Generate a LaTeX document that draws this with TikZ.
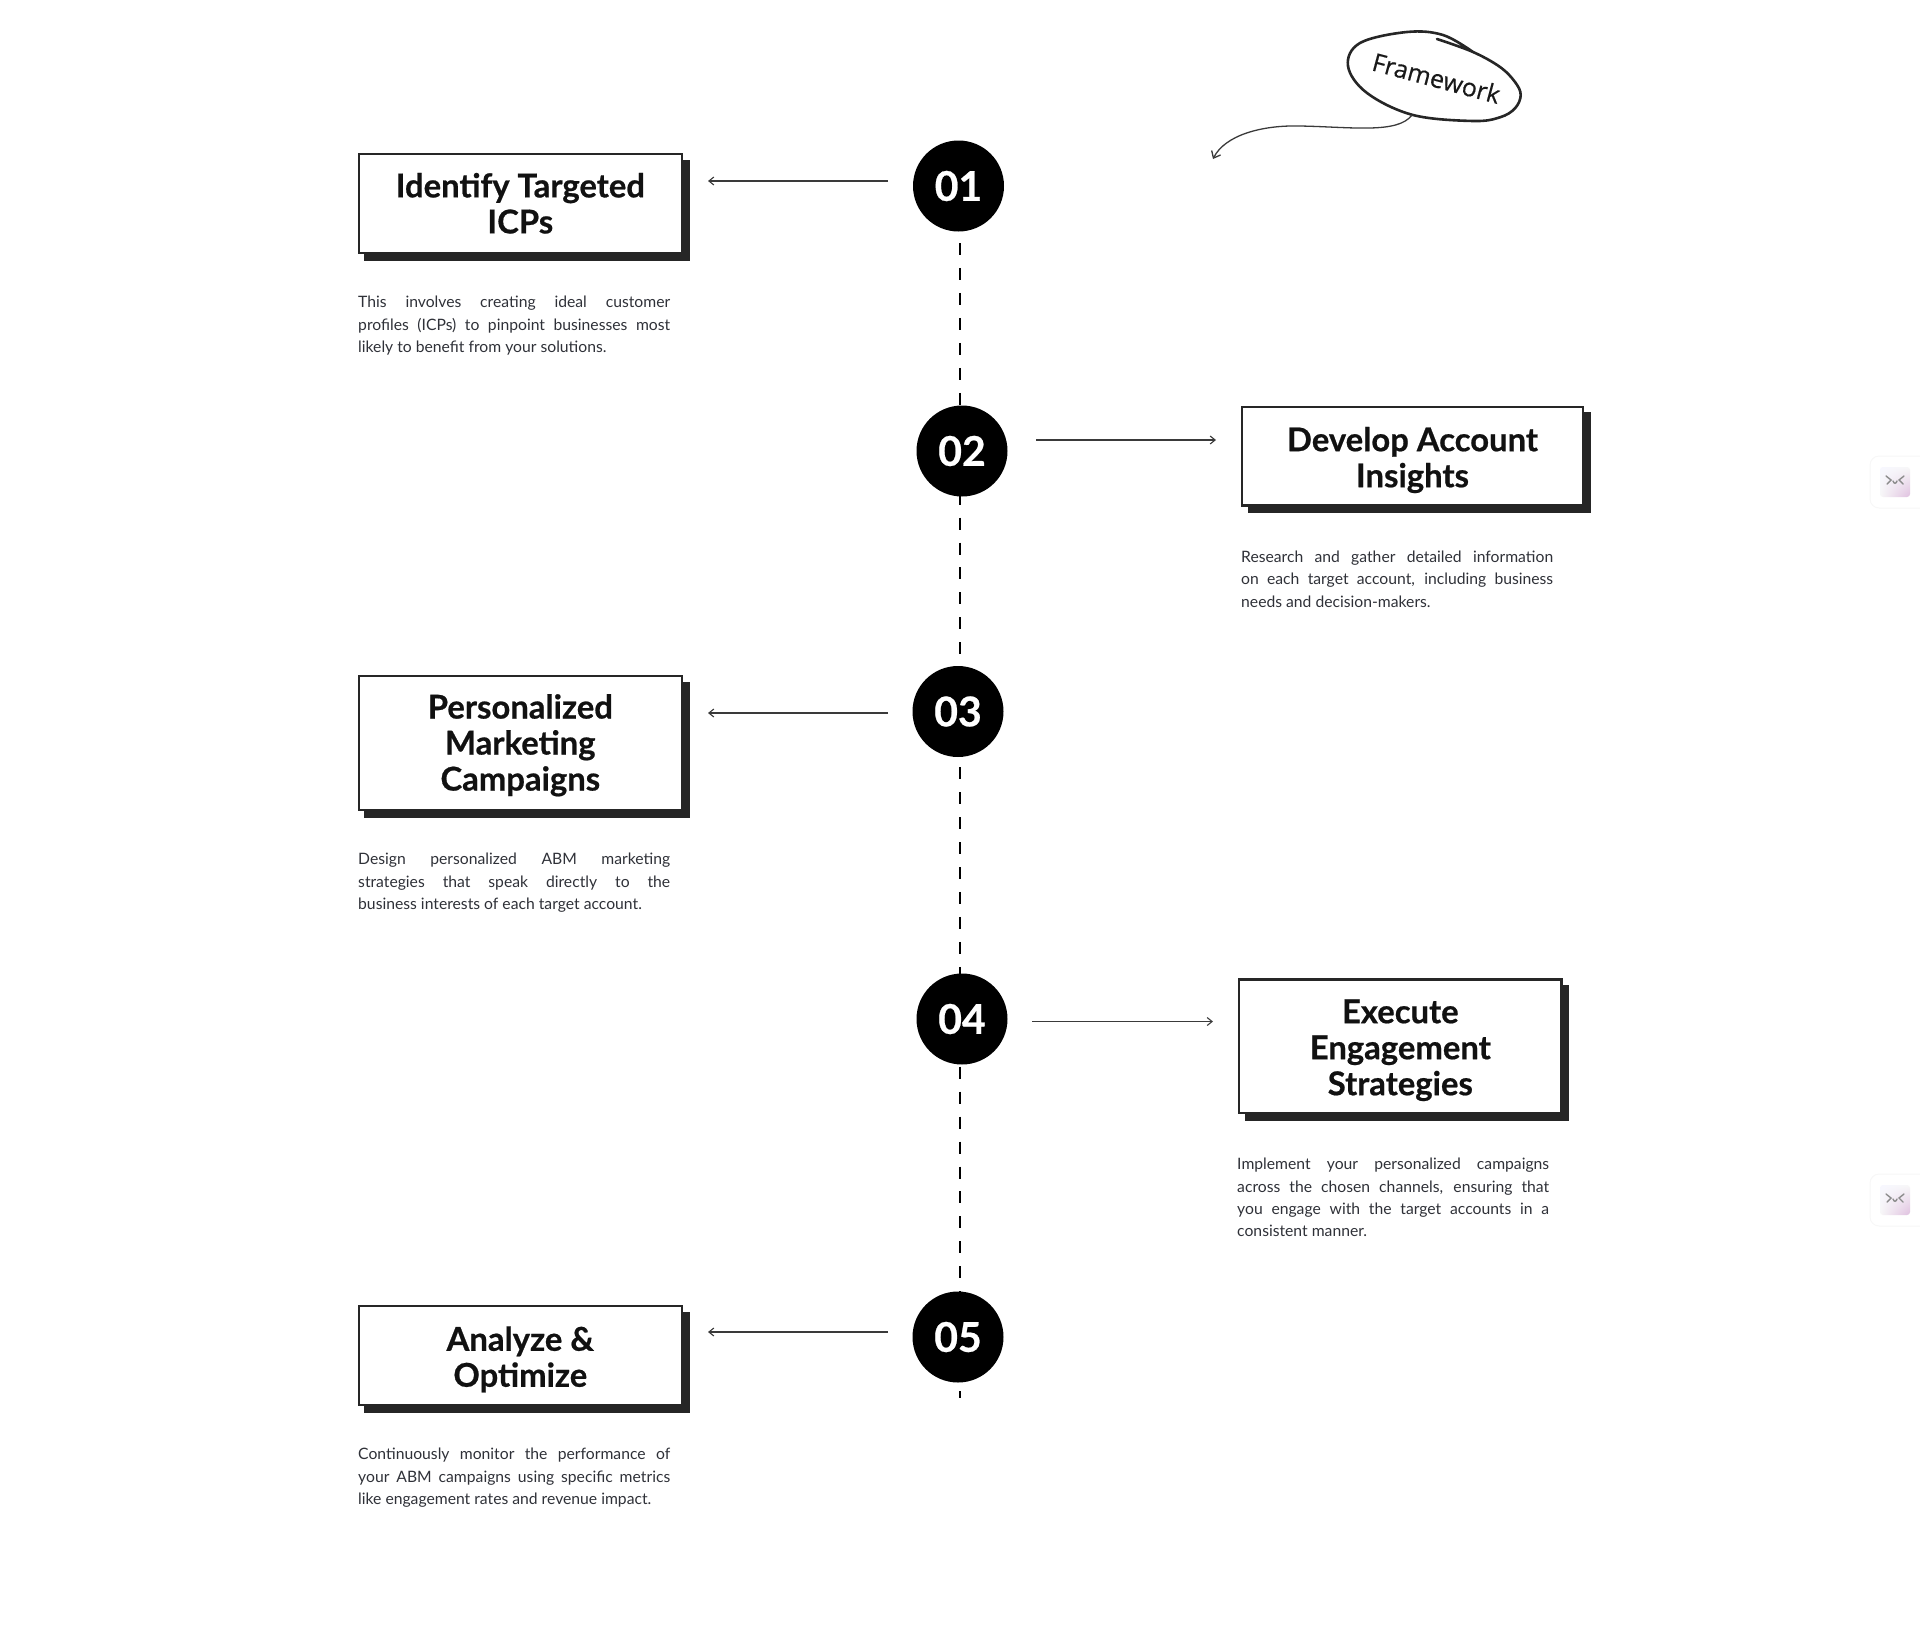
\documentclass[tikz,border=0pt]{standalone}
\usepackage{fontspec}
\setmainfont{Lato}[BoldFeatures={FakeBold=0.6}]
\newfontfamily\handfont{Open Sans}[FakeBold=0.4]
\usetikzlibrary{arrows.meta,shadows,shadings}
\definecolor{ink}{HTML}{111111}
\definecolor{bodyink}{HTML}{2F3138}
\definecolor{shadowink}{HTML}{262626}
\definecolor{arrowink}{HTML}{3A3A3A}
\newcommand{\jl}[1]{\makebox[312pt][s]{#1}}
\tikzset{
  x=1pt,y=-1pt,
  titlebox/.style={draw=shadowink,line width=2.3pt,fill=white,inner sep=0pt,
    general shadow={draw=shadowink,fill=shadowink,opacity=1,shadow xshift=6.8pt,shadow yshift=-6.5pt}},
  titletext/.style={inner sep=0pt,align=center,text=ink,font=\fontsize{32.8}{36}\selectfont\bfseries},
  numdot/.style={circle,fill=black,text=white,minimum size=91pt,inner sep=0pt,font=\fontsize{41}{41}\selectfont\bfseries},
  bodytext/.style={anchor=north west,inner sep=0pt,align=left,text=bodyink,font=\fontsize{15.7}{22.4}\selectfont},
  spine/.style={draw=black,line width=2.3pt,dash pattern=on 12pt off 12.96pt},
  pointer/.style={draw=arrowink,line width=1.1pt,-{Straight Barb[length=5pt,width=8pt]}},
  panel/.style={draw=black!3,line width=1pt,fill=white,rounded corners=9pt},
  face/.style={draw=black!45,line width=1.4pt,line cap=round},
}
\newcommand{\dn}[1]{\raisebox{-3pt}{#1}}
\begin{document}
\begin{tikzpicture}
\useasboundingbox (0,0) rectangle (1920,1630);
% spine
\coordinate (s0) at (960,243);
\coordinate (s8) at (960,1398);
\draw[spine] (s0) -- (s8);
% number dots
\node[numdot] (n1) at (958.5,186) {\dn{01}};
\node[numdot] (n2) at (962,451) {\dn{02}};
\node[numdot] (n3) at (958,711.5) {\dn{03}};
\node[numdot] (n4) at (962,1019) {\dn{04}};
\node[numdot] (n5) at (958,1337) {\dn{05}};
% boxes
\node[titlebox,minimum width=323pt,minimum height=98.7pt] (b1) at (520.3,203.5) {};
\node[titlebox,minimum width=340.7pt,minimum height=98.4pt] (b2) at (1412.5,456.3) {};
\node[titlebox,minimum width=323pt,minimum height=133.7pt] (b3) at (520.3,743) {};
\node[titlebox,minimum width=322.4pt,minimum height=133.7pt] (b4) at (1400.3,1046.3) {};
\node[titlebox,minimum width=323pt,minimum height=98.7pt] (b5) at (520.3,1355.5) {};
\node[titletext] (h1) at (520.3,203.3) {Identify Targeted\\ICPs};
\node[titletext] (h2) at (1412.5,460) {Develop Account\\Insights};
\node[titletext] (h3) at (520.3,745.3) {Personalized\\Marketing\\Campaigns};
\node[titletext] (h4) at (1400.3,1050.3) {Execute\\Engagement\\Strategies};
\node[titletext] (h5) at (520.3,1359.3) {Analyze \&\\Optimize};
% arrows
\coordinate (a1s) at (888,181); \coordinate (a1e) at (708,181);
\coordinate (a2s) at (1036,440); \coordinate (a2e) at (1216,440);
\coordinate (a3s) at (888,713); \coordinate (a3e) at (708,713);
\coordinate (a4s) at (1032,1021.5); \coordinate (a4e) at (1213,1021.5);
\coordinate (a5s) at (888,1332); \coordinate (a5e) at (708,1332);
\draw[pointer] (a1s) -- (a1e);
\draw[pointer] (a2s) -- (a2e);
\draw[pointer] (a3s) -- (a3e);
\draw[pointer] (a4s) -- (a4e);
\draw[pointer] (a5s) -- (a5e);
% body
\node[bodytext] (t1) at (358,296) {\jl{This involves creating ideal customer}\\\jl{profiles (ICPs) to pinpoint businesses most}\\likely to benefit from your solutions.};
\node[bodytext] (t2) at (1241,550.5) {\jl{Research and gather detailed information}\\\jl{on each target account, including business}\\needs and decision-makers.};
\node[bodytext] (t3) at (358,853) {\jl{Design personalized ABM marketing}\\\jl{strategies that speak directly to the}\\business interests of each target account.};
\node[bodytext] (t4) at (1237,1158) {\jl{Implement your personalized campaigns}\\\jl{across the chosen channels, ensuring that}\\\jl{you engage with the target accounts in a}\\consistent manner.};
\node[bodytext] (t5) at (358,1448) {\jl{Continuously monitor the performance of}\\\jl{your ABM campaigns using specific metrics}\\like engagement rates and revenue impact.};
% framework bubble
\draw[draw=black!85,line width=2.6pt,line cap=round,line join=round]
  plot[smooth,tension=.6] coordinates {(1437,39) (1473,52) (1500,67) (1515,82) (1520.7,95) (1515,108.3) (1500,117.3) (1473,121) (1413,115) (1367,93) (1348,66) (1360,43) (1407,32) (1443,35) (1473,52)};
\node[rotate=-15,font=\handfont\fontsize{25}{25}\selectfont,text=black!90,inner sep=0pt] (fw) at (1436.5,78) {Framework};
\coordinate (tailstart) at (1412,115);
\coordinate (tailend) at (1213,159);
\draw[draw=arrowink,line width=1.3pt,-{Straight Barb[length=6pt,width=10pt]}]
  (tailstart) .. controls (1398,134) and (1352,127) .. (1300,126) .. controls (1262,125) and (1225,135) .. (tailend);
% side widgets
\foreach \yy in {0,718}{
  \begin{scope}[yshift=-\yy pt]
  \filldraw[panel] (1870,456) rectangle (1930,508);
  \shade[rounded corners=3pt,upper left=blue!3,upper right=black!3,lower left=black!3,lower right=violet!25] (1880,467) rectangle (1910,497);
  \draw[face] (1886,476) -- (1891,480) -- (1887,484);
  \draw[face] (1904,476) -- (1899,480) -- (1903,484);
  \draw[face] (1893,481) .. controls (1894,484) and (1896,484) .. (1897,481);
  \end{scope}
}
\end{tikzpicture}
\end{document}
